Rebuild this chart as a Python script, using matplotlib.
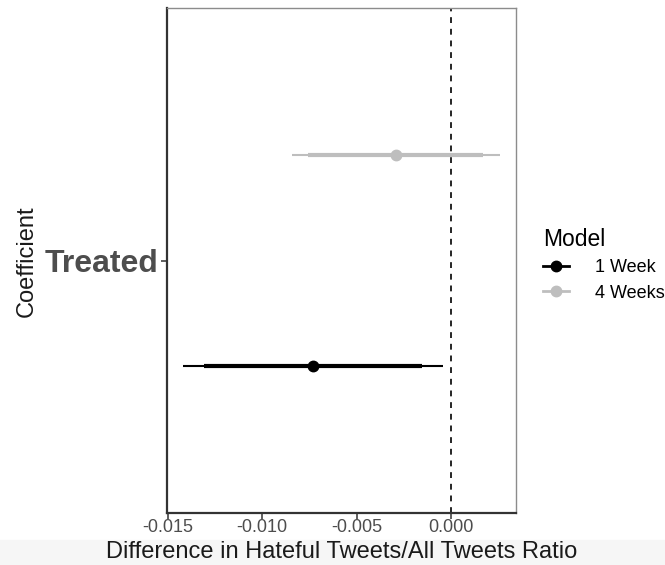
import matplotlib
matplotlib.use("Agg")
from matplotlib import pyplot as plt
from matplotlib.lines import Line2D
from matplotlib.patches import Rectangle

plt.rcParams['font.family'] = ['Liberation Sans', 'DejaVu Sans']

# coefficient estimates
models = ['1 Week', '4 Weeks']
estimates = [-0.00731, -0.00292]
ci95_low = [-0.01419, -0.00843]
ci95_high = [-0.00041, 0.00260]
ci90_low = [-0.01307, -0.00757]
ci90_high = [-0.00152, 0.00170]
colors = ['#000000', '#bebebe']
dodge = [-0.25, 0.25]
term = 'Treated'

fig = plt.figure(figsize=(6.65, 5.65), dpi=100)
# light band of the screenshot at the bottom
fig.patches.append(Rectangle((0, 0), 1, 0.045, transform=fig.transFigure,
                             color='#f6f6f6', zorder=0))
ax = fig.add_axes([167/665, 52/565, 349/665, 505/565])

for i in range(len(models)):
    y = 1 + dodge[i]
    ax.plot([ci95_low[i], ci95_high[i]], [y, y], color=colors[i], lw=1.5,
            solid_capstyle='butt', zorder=3)
    ax.plot([ci90_low[i], ci90_high[i]], [y, y], color=colors[i], lw=3,
            solid_capstyle='butt', zorder=4)
    ax.plot(estimates[i], y, 'o', color=colors[i], ms=7.5, zorder=5)

ax.axvline(0, color='black', lw=1.2, ls=(0, (3.5, 3.5)), zorder=2)

ax.set_xlim(-0.01505, 0.00345)
ax.set_ylim(0.4, 1.6)
ax.set_xticks([-0.015, -0.010, -0.005, 0.000])
ax.set_xticklabels(['-0.015', '-0.010', '-0.005', '0.000'])
ax.set_yticks([1])
ax.set_yticklabels([term], fontsize=23, fontweight='bold', color='#4d4d4d')
ax.tick_params(axis='x', labelsize=13, labelcolor='#4d4d4d', color='#333333',
               length=4, width=1.1, pad=0)
ax.tick_params(axis='y', color='#333333', length=4, width=1.1, pad=2)

ax.spines['left'].set_color('#333333')
ax.spines['left'].set_linewidth(1.6)
ax.spines['bottom'].set_color('#333333')
ax.spines['bottom'].set_linewidth(1.6)
ax.spines['top'].set_color('#8c8c8c')
ax.spines['top'].set_linewidth(1.0)
ax.spines['right'].set_color('#8c8c8c')
ax.spines['right'].set_linewidth(1.0)

fig.text(341.5/665, 1 - 552/565, 'Difference in Hateful Tweets/All Tweets Ratio',
         fontsize=17, color='#1a1a1a', ha='center', va='center')
fig.text(27/665, 1 - 261/565, 'Coefficient', rotation=90, fontsize=17,
         color='#1a1a1a', ha='center', va='center')

handles = [Line2D([0], [0], color=c, lw=2, marker='o', ms=7.5) for c in colors]
leg = fig.legend(handles, models, title='Model', loc='upper left',
                 bbox_to_anchor=(527/665, 1 - 212/565), frameon=False,
                 fontsize=13, title_fontsize=16.5, handlelength=1.4,
                 handletextpad=1.45, labelspacing=0.45)
leg._legend_box.align = 'left'

fig.savefig('out.png', dpi=100)
